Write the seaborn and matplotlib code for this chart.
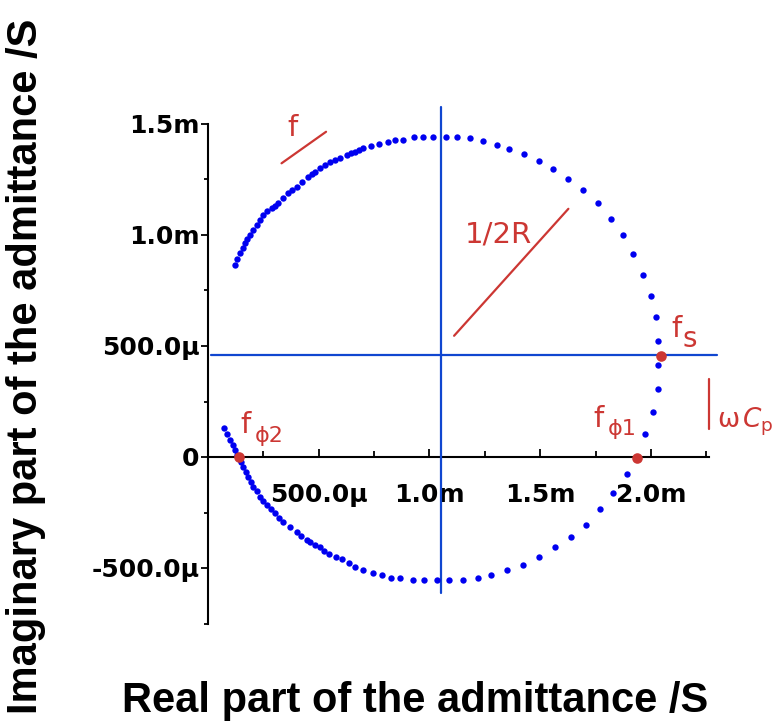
import numpy as np
import pandas as pd
import matplotlib
matplotlib.use("Agg")
import matplotlib.pyplot as plt
import seaborn as sns
from matplotlib.ticker import FixedLocator, FixedFormatter

# ---- data (in mS) ----
real_mS = [
    0.122, 0.131, 0.144, 0.156, 0.167, 0.178, 0.190, 0.203, 0.220, 0.235,
    0.250, 0.266, 0.288, 0.302, 0.317, 0.339, 0.363, 0.379, 0.400, 0.424,
    0.453, 0.470, 0.483, 0.506, 0.528, 0.551, 0.573, 0.596, 0.626, 0.646,
    0.664, 0.682, 0.701, 0.738, 0.772, 0.811, 0.846, 0.882, 0.930, 0.972,
    1.017, 1.074, 1.123, 1.183, 1.243, 1.303, 1.360, 1.428, 1.494, 1.559,
    1.627, 1.692, 1.759, 1.818, 1.872, 1.920, 1.963, 1.999, 2.023, 2.033,
    2.033, 2.030, 2.010, 1.973, 1.890, 1.830, 1.771, 1.705, 1.639, 1.567,
    1.494, 1.422, 1.350, 1.279, 1.219, 1.153, 1.086, 1.032, 0.977, 0.924,
    0.867, 0.826, 0.786, 0.744, 0.701, 0.665, 0.637, 0.606, 0.577, 0.548,
    0.524, 0.506, 0.483, 0.460, 0.446, 0.420, 0.400, 0.370, 0.340, 0.321,
    0.302, 0.284, 0.265, 0.248, 0.235, 0.219, 0.205, 0.193, 0.182, 0.171,
    0.159, 0.149, 0.141, 0.131, 0.122, 0.111, 0.099, 0.086, 0.074,
]
imag_mS = [
    0.865, 0.892, 0.919, 0.941, 0.964, 0.982, 1.000, 1.023, 1.045, 1.068,
    1.090, 1.106, 1.120, 1.131, 1.143, 1.167, 1.188, 1.203, 1.218, 1.239,
    1.260, 1.275, 1.285, 1.302, 1.315, 1.327, 1.338, 1.347, 1.360, 1.369,
    1.375, 1.383, 1.391, 1.401, 1.409, 1.418, 1.429, 1.429, 1.441, 1.441,
    1.441, 1.443, 1.443, 1.436, 1.423, 1.407, 1.386, 1.364, 1.333, 1.297,
    1.251, 1.203, 1.143, 1.072, 0.999, 0.914, 0.821, 0.724, 0.629, 0.521,
    0.413, 0.306, 0.203, 0.102, -0.077, -0.161, -0.234, -0.305, -0.360, -0.407,
    -0.449, -0.485, -0.509, -0.533, -0.545, -0.555, -0.555, -0.555, -0.555, -0.555,
    -0.545, -0.545, -0.533, -0.521, -0.509, -0.494, -0.479, -0.461, -0.449, -0.437,
    -0.425, -0.404, -0.396, -0.383, -0.374, -0.356, -0.336, -0.315, -0.291, -0.273,
    -0.254, -0.234, -0.216, -0.196, -0.179, -0.155, -0.134, -0.111, -0.089, -0.066,
    -0.044, -0.023, -0.008, 0.009, 0.032, 0.054, 0.077, 0.104, 0.129,
]

marker_names = ["fs", "fphi1", "fphi2"]
marker_real_mS = [2.045, 1.937, 0.141]
marker_imag_mS = [0.455, -0.005, 0.0]

center_real_mS = 1.05
center_imag_mS = 0.46
hline_span_mS = [0.014, 2.30]
vline_span_mS = [-0.614, 1.575]

x_major_mS = [0.5, 1.0, 1.5, 2.0]
x_major_labels = ["500.0μ", "1.0m", "1.5m", "2.0m"]
x_minor_mS = [0.25, 0.75, 1.25, 1.75, 2.25]
y_major_mS = [-0.5, 0.0, 0.5, 1.0, 1.5]
y_major_labels = ["-500.0μ", "0", "500.0μ", "1.0m", "1.5m"]
y_minor_mS = [-0.75, -0.25, 0.25, 0.75, 1.25]

mS = 1e-3
df = pd.DataFrame({"real": np.array(real_mS) * mS, "imag": np.array(imag_mS) * mS})
dm = pd.DataFrame({"name": marker_names,
                   "real": np.array(marker_real_mS) * mS,
                   "imag": np.array(marker_imag_mS) * mS})

# ---- style ----
sns.set_style("white")
plt.rcParams["font.family"] = ["DejaVu Sans"]
plt.rcParams["text.color"] = "black"
plt.rcParams["xtick.color"] = "black"
plt.rcParams["ytick.color"] = "black"

BLUE_DOT = "#0000f0"
BLUE_LINE = "#1046d0"
RED = "#cc3733"

fig = plt.figure(figsize=(7.78, 7.24), dpi=100)
W, H = 778, 724
x0px, y0px = 208, 457
sx, sy = 221.5, 222.0  # px per mS
xlim = (0.0, 2.35)
ylim = (-0.8, 1.6)
left = (x0px + xlim[0] * sx) / W
width = (xlim[1] - xlim[0]) * sx / W
top_px = y0px - ylim[1] * sy
bot_px = y0px - ylim[0] * sy
ax = fig.add_axes([left, (H - bot_px) / H, width, (bot_px - top_px) / H])
ax.set_xlim(xlim[0] * mS, xlim[1] * mS)
ax.set_ylim(ylim[0] * mS, ylim[1] * mS)

# reference lines through the circle centre
ax.plot(np.array(hline_span_mS) * mS, [center_imag_mS * mS] * 2, color=BLUE_LINE, lw=1.6, zorder=2)
ax.plot([center_real_mS * mS] * 2, np.array(vline_span_mS) * mS, color=BLUE_LINE, lw=1.6, zorder=2)

sns.scatterplot(data=df, x="real", y="imag", color=BLUE_DOT, s=21, linewidth=0,
                ax=ax, legend=False, zorder=3)
sns.scatterplot(data=dm, x="real", y="imag", color=RED, s=58, linewidth=0,
                ax=ax, legend=False, zorder=4)

# spines
for s in ["top", "right"]:
    ax.spines[s].set_visible(False)
ax.spines["bottom"].set_position(("data", 0))
ax.spines["left"].set_position(("data", 0))
ax.spines["bottom"].set_bounds(0, 2.26 * mS)
ax.spines["left"].set_bounds(-0.75 * mS, 1.5 * mS)
for s in ["bottom", "left"]:
    ax.spines[s].set_color("black")
    ax.spines[s].set_linewidth(1.5)
    ax.spines[s].set_zorder(1)

ax.xaxis.set_major_locator(FixedLocator(np.array(x_major_mS) * mS))
ax.xaxis.set_major_formatter(FixedFormatter(x_major_labels))
ax.xaxis.set_minor_locator(FixedLocator(np.array(x_minor_mS) * mS))
ax.yaxis.set_major_locator(FixedLocator(np.array(y_major_mS) * mS))
ax.yaxis.set_major_formatter(FixedFormatter(y_major_labels))
ax.yaxis.set_minor_locator(FixedLocator(np.array(y_minor_mS) * mS))

ax.tick_params(axis="x", which="both", direction="in", bottom=True, width=1.3, pad=19,
               labelsize=18, colors="black")
ax.tick_params(axis="x", which="major", length=6)
ax.tick_params(axis="x", which="minor", length=4)
ax.tick_params(axis="y", which="both", direction="out", left=True, width=1.3, pad=1,
               labelsize=18, colors="black")
ax.tick_params(axis="y", which="major", length=5)
ax.tick_params(axis="y", which="minor", length=3)
for lab in ax.get_xticklabels() + ax.get_yticklabels():
    lab.set_fontweight("bold")
    lab.set_color("black")
ax.set_xlabel("")
ax.set_ylabel("")

# ---- red annotations ----
ax.plot([0.332 * mS, 0.533 * mS], [1.323 * mS, 1.465 * mS], color=RED, lw=1.6)
ax.plot([1.111 * mS, 1.627 * mS], [0.546 * mS, 1.118 * mS], color=RED, lw=1.6)
ax.plot([2.263 * mS, 2.263 * mS], [0.126 * mS, 0.351 * mS], color=RED, lw=1.6)

def t(x, y, s, size, **kw):
    ax.text(x * mS, y * mS, s, color=RED, fontsize=size, ha="left", va="baseline", **kw)

t(0.357, 1.446, "f", 21)
t(1.160, 0.965, "1/2R", 21)
t(2.090, 0.541, "f", 21)
t(2.144, 0.495, "s", 20)
t(1.738, 0.135, "f", 21)
t(1.806, 0.099, "ϕ1", 16)
t(0.144, 0.108, "f", 21)
t(0.212, 0.069, "ϕ2", 16)
t(2.300, 0.135, "ω", 19)
t(2.412, 0.135, r"$C_\mathregular{p}$", 19)

# ---- axis titles ----
fig.text(415 / W, 1 - 712 / H, "Real part of the admittance /S", ha="center", va="baseline",
         fontsize=30, fontweight="bold", family="Liberation Sans", color="black")
fig.text(26 / W, 1 - 366 / H, "Imaginary part of the admittance /S", ha="center", va="center",
         rotation=90, fontsize=30, fontweight="bold", family="Liberation Sans", color="black")

fig.savefig("out.png", dpi=100)
